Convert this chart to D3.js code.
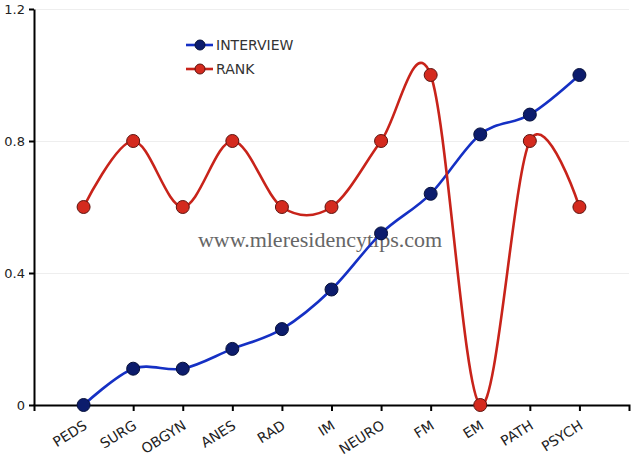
<!DOCTYPE html>
<meta charset="utf-8">
<style>
body { margin: 0; background: #fff; }
svg { display: block; }
svg text { font-family: "DejaVu Sans", Verdana, sans-serif; }
.axis .tick text { fill: #222; font-size: 13px; }
.x.axis .tick text { font-size: 14px; }
.axis path, .axis line { stroke: #000; stroke-width: 2; }
.grid line { stroke: #eee; stroke-width: 1; }
.grid .domain { display: none; }
svg text.watermark { font-family: "Liberation Serif", "DejaVu Serif", serif; font-size: 22px; fill: #666; }
.legend text { font-size: 14px; fill: #333; }
</style>
<body>
<script src="https://cdn.jsdelivr.net/npm/d3@7"></script>
<script>
var categories = ['PEDS', 'SURG', 'OBGYN', 'ANES', 'RAD', 'IM', 'NEURO', 'FM', 'EM', 'PATH', 'PSYCH']
var interview = [0, 0.11, 0.11, 0.17, 0.23, 0.35, 0.52, 0.64, 0.82, 0.88, 1.0]
var rank = [0.6, 0.8, 0.6, 0.8, 0.6, 0.6, 0.8, 1.0, 0, 0.8, 0.6]
var yTicks = [0, 0.4, 0.8, 1.2]
var seriesNames = ['INTERVIEW', 'RANK']

var width = 640, height = 456
var plotLeft = 34, plotRight = 629, plotTop = 9, plotBottom = 405

var series = [
    { name: seriesNames[0], values: interview, line: '#1530c4', dot: '#0c1c6c', dotStroke: '#06103a' },
    { name: seriesNames[1], values: rank, line: '#c8231a', dot: '#d42a1e', dotStroke: '#5e1410' }
]

var svg = d3.select('body').append('svg')
    .attr('width', width)
    .attr('height', height)

var x = d3.scalePoint()
    .domain(categories)
    .range([plotLeft, plotRight])
    .padding(1)

var y = d3.scaleLinear()
    .domain([0, 1.2])
    .range([plotBottom, plotTop])

// faint gridlines
svg.append('g')
    .attr('class', 'grid')
    .attr('transform', 'translate(' + plotLeft + ',0)')
    .call(d3.axisRight(y).tickValues(yTicks.slice(1)).tickSize(plotRight - plotLeft).tickFormat(''))

svg.append('text')
    .attr('class', 'watermark')
    .attr('x', 320)
    .attr('y', 247)
    .attr('text-anchor', 'middle')
    .text('www.mleresidencytips.com')

var line = d3.line()
    .x(function (d, i) { return x(categories[i]) })
    .y(function (d) { return y(d) })
    .curve(d3.curveCardinal.tension(0))

series.forEach(function (s) {
    svg.append('path')
        .datum(s.values)
        .attr('fill', 'none')
        .attr('stroke', s.line)
        .attr('stroke-width', 2.6)
        .attr('d', line)
})

var gx = svg.append('g')
    .attr('class', 'x axis')
    .attr('transform', 'translate(0,' + plotBottom + ')')
    .call(d3.axisBottom(x).tickSize(6).tickSizeOuter(6))

gx.selectAll('.tick text')
    .attr('text-anchor', 'end')
    .attr('x', 0).attr('y', 0).attr('dy', 0)
    .attr('transform', 'translate(4,23) rotate(-32)')

var gy = svg.append('g')
    .attr('class', 'y axis')
    .attr('transform', 'translate(' + plotLeft + ',0)')
    .call(d3.axisLeft(y).tickValues(yTicks).tickSize(5).tickSizeOuter(0).tickPadding(4)
        .tickFormat(function (d) { return d === 0 ? '0' : d3.format('.1f')(d) }))

series.forEach(function (s) {
    svg.append('g').selectAll('circle')
        .data(s.values)
        .enter().append('circle')
        .attr('cx', function (d, i) { return x(categories[i]) })
        .attr('cy', function (d) { return y(d) })
        .attr('r', 6.5)
        .attr('fill', s.dot)
        .attr('stroke', s.dotStroke)
        .attr('stroke-width', 1)
})

var legend = svg.append('g')
    .attr('class', 'legend')
    .selectAll('g')
    .data(series)
    .enter().append('g')
    .attr('transform', function (d, i) { return 'translate(186,' + (45 + i * 24) + ')' })

legend.append('line')
    .attr('x1', 0).attr('x2', 27)
    .attr('stroke', function (d) { return d.line })
    .attr('stroke-width', 2.6)

legend.append('circle')
    .attr('cx', 14)
    .attr('r', 5)
    .attr('fill', function (d) { return d.dot })
    .attr('stroke', function (d) { return d.dotStroke })

legend.append('text')
    .attr('x', 30)
    .attr('dy', '0.36em')
    .text(function (d) { return d.name })
</script>
</body>
